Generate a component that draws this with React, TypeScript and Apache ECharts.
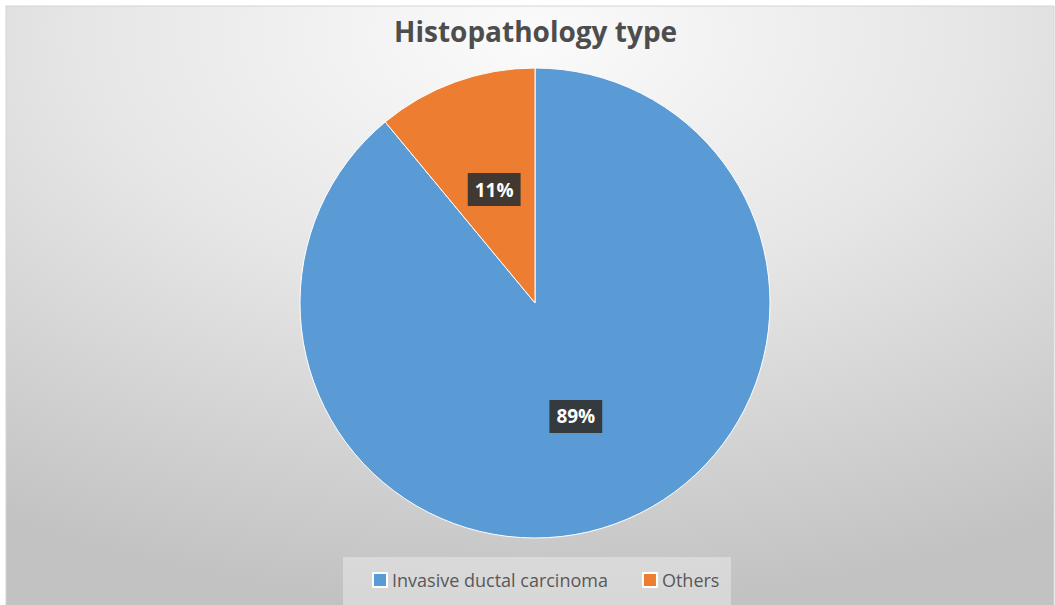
import React, { useEffect, useRef } from "react";
import * as echarts from "echarts";

const categories = ["Invasive ductal carcinoma", "Others"];
const values = [89, 11];
const colors = ["#5b9bd5", "#ed7d31"];

export default function App() {
  const ref = useRef<HTMLDivElement>(null);

  useEffect(() => {
    document.body.style.margin = "0";
    const chart = echarts.init(ref.current!, null, { renderer: "svg" });
    chart.setOption({
      animation: false,
      backgroundColor: "#ffffff",
      graphic: [
        {
          type: "rect",
          z: -10,
          silent: true,
          shape: { x: 6, y: 6, width: 1048, height: 600 },
          style: {
            fill: new echarts.graphic.RadialGradient(0.5, 0.05, 0.95, [
              { offset: 0, color: "#fbfbfb" },
              { offset: 0.45, color: "#e6e6e6" },
              { offset: 1, color: "#c2c2c2" },
            ]),
            stroke: "#d4d4d4",
            lineWidth: 1,
          },
        },
        {
          type: "rect",
          z: -9,
          silent: true,
          shape: { x: 343, y: 557, width: 388, height: 50 },
          style: { fill: "rgba(235,235,235,0.5)" },
        },
      ],
      title: {
        text: "Histopathology type",
        left: 389,
        top: 12,
        textStyle: {
          fontFamily: "Open Sans",
          fontWeight: "bold",
          fontSize: 28,
          color: "#4d4d4d",
        },
      },
      legend: {
        top: 566,
        left: 367,
        itemWidth: 14,
        itemHeight: 14,
        itemGap: 34,
        icon: "rect",
        textStyle: {
          fontFamily: "Open Sans",
          fontSize: 18,
          color: "#595959",
        },
        data: categories,
      },
      series: [
        {
          type: "pie",
          center: [535, 303],
          radius: 235,
          startAngle: 90,
          clockwise: true,
          data: categories.map((name, i) => ({
            name,
            value: values[i],
            itemStyle: { color: colors[i] },
          })),
          itemStyle: { borderColor: "#ffffff", borderWidth: 1 },
          label: {
            show: true,
            position: "inside",
            formatter: "{c}%",
            fontFamily: "Open Sans",
            fontWeight: "bold",
            fontSize: 19,
            color: "#ffffff",
            backgroundColor: "rgba(50,50,50,0.92)",
            padding: [8, 7, 6, 7],
          },
          labelLine: { show: false },
        },
      ],
    });
    return () => chart.dispose();
  }, []);

  return (
    <div
      ref={ref}
      style={{ position: "absolute", left: 0, top: 0, width: 1055, height: 605 }}
    />
  );
}
